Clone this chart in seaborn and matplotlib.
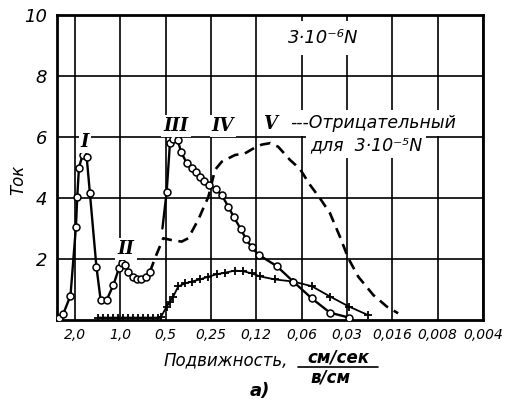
import matplotlib
matplotlib.use("Agg")
import matplotlib.pyplot as plt
import seaborn as sns
import numpy as np
import pandas as pd

# ---- data (mobility in cm/sec per V/cm, current) ----
# curves I and II, positive ions 3e-6 N (open circles)
m_12 = [2.55, 2.39, 2.14, 1.97, 1.93, 1.88, 1.78, 1.67, 1.59, 1.44, 1.35, 1.23,
        1.11, 1.02, 0.97, 0.924, 0.883, 0.828, 0.779, 0.729, 0.675, 0.635]
i_12 = [0.06, 0.2, 0.8, 3.04, 4.04, 5.0, 5.4, 5.33, 4.15, 1.75, 0.66, 0.66,
        1.15, 1.7, 1.86, 1.8, 1.58, 1.42, 1.33, 1.36, 1.42, 1.58]

# curves III and IV (open circles), first point without marker
m_34 = [0.525, 0.492, 0.468, 0.445, 0.416, 0.395, 0.362, 0.336, 0.316, 0.296,
        0.277, 0.257, 0.232, 0.212, 0.192, 0.176, 0.158, 0.146, 0.134, 0.120,
        0.0916, 0.0710, 0.0536, 0.0405, 0.0303]
i_34 = [3.0, 4.2, 5.79, 5.95, 5.9, 5.52, 5.14, 5.0, 4.86, 4.7,
        4.57, 4.43, 4.28, 4.1, 3.72, 3.37, 2.97, 2.65, 2.38, 2.13,
        1.77, 1.26, 0.71, 0.24, 0.08]

# negative ions 3e-5 N (dashed)
m_neg = [0.635, 0.589, 0.518, 0.456, 0.391, 0.354, 0.304, 0.260, 0.235, 0.212,
         0.173, 0.149, 0.128, 0.115, 0.101, 0.0894, 0.0747, 0.0641, 0.0550,
         0.0472, 0.0405, 0.0348, 0.0306, 0.0263, 0.0209, 0.0170, 0.0143]
i_neg = [1.58, 2.02, 2.68, 2.62, 2.57, 2.68, 3.28, 4.04, 4.92, 5.19,
         5.41, 5.46, 5.65, 5.75, 5.8, 5.68, 5.25, 4.95, 4.43,
         3.99, 3.5, 2.73, 2.02, 1.42, 0.82, 0.44, 0.22]

# crosses curve
m_cross = [1.41, 1.30, 1.21, 1.12, 1.04, 0.960, 0.889, 0.824, 0.763, 0.707,
           0.655, 0.607, 0.562, 0.537, 0.492, 0.468, 0.445, 0.412, 0.372, 0.336,
           0.296, 0.260, 0.229, 0.202, 0.173, 0.153, 0.134, 0.118, 0.0940,
           0.0710, 0.0536, 0.0405, 0.0303, 0.0226]
i_cross = [0.08, 0.08, 0.08, 0.08, 0.08, 0.08, 0.08, 0.08, 0.08, 0.08,
           0.08, 0.08, 0.08, 0.1, 0.44, 0.6, 0.77, 1.1, 1.2, 1.26,
           1.33, 1.42, 1.5, 1.55, 1.62, 1.6, 1.53, 1.43, 1.33,
           1.26, 1.11, 0.77, 0.44, 0.16]

x_ticks = [2.0, 1.0, 0.5, 0.25, 0.125, 0.0625, 0.03125, 0.015625, 0.0078125, 0.00390625]
x_ticklabels = ["2,0", "1,0", "0,5", "0,25", "0,12", "0,06", "0,03", "0,016", "0,008", "0,004"]
y_ticks = [2, 4, 6, 8, 10]
y_ticklabels = ["2", "4", "6", "8", "10"]

sns.set_style("white")
plt.rcParams['font.family'] = ['DejaVu Sans']
plt.rcParams['text.color'] = 'black'
plt.rcParams['xtick.color'] = 'black'
plt.rcParams['ytick.color'] = 'black'
plt.rcParams['axes.labelcolor'] = 'black'

W, H = 507, 400
fig = plt.figure(figsize=(W / 100, H / 100), dpi=100)
ax = fig.add_axes([57 / W, 1 - 320 / H, 426 / W, 305 / H])

def px(x, y):
    return x / W, 1 - y / H

circ = dict(color="black", marker="o", markersize=5, markerfacecolor="white",
            markeredgecolor="black", markeredgewidth=1.1, linewidth=1.7, zorder=5)

sns.lineplot(x=m_12, y=i_12, ax=ax, sort=False, estimator=None, **circ)
sns.lineplot(x=m_34, y=i_34, ax=ax, sort=False, estimator=None,
             markevery=list(range(1, len(m_34))), **circ)
sns.lineplot(x=m_neg, y=i_neg, ax=ax, sort=False, estimator=None, color="black",
             linewidth=1.9, zorder=4)
ax.lines[-1].set_dashes([4, 2.5])
sns.lineplot(x=m_cross, y=i_cross, ax=ax, sort=False, estimator=None, color="black",
             marker="+", markersize=6, markeredgewidth=1.3, markeredgecolor="black",
             linewidth=1.3, zorder=4)

ax.set_xscale("log", base=2)
ax.set_xlim(2.63, 2 / 512)
ax.set_ylim(0, 10)
ax.set_xticks(x_ticks)
ax.set_xticklabels(x_ticklabels, fontsize=10, style="italic")
ax.minorticks_off()
ax.set_yticks(y_ticks)
ax.set_yticklabels(y_ticklabels, fontsize=13, style="italic")
ax.tick_params(axis="both", length=0, labelcolor="black")
ax.tick_params(axis="x", pad=6)
ax.tick_params(axis="y", pad=7)
ax.grid(True, color="black", linewidth=1.2)
ax.set_axisbelow(True)
for s in ax.spines.values():
    s.set_color("black")
    s.set_linewidth(2)
ax.set_xlabel("")
ax.set_ylabel("")

white = dict(facecolor="white", edgecolor="none", pad=1.5)
rom = dict(ha="center", va="center", fontsize=13, fontweight="bold",
           style="italic", family="DejaVu Serif", bbox=white, zorder=3)
for lab, (x, y) in [("I", (85, 142)), ("II", (126, 249)), ("III", (176, 126)),
                    ("IV", (223, 126)), ("V", (270, 124))]:
    fig.text(*px(x, y), lab, **rom)

fig.text(*px(323, 38), "3·10⁻⁶N", ha="center", va="center", fontsize=13,
         style="italic", bbox=dict(facecolor="white", edgecolor="none", pad=6), zorder=3)
fig.text(*px(290, 123), "---Отрицательный", ha="left", va="center", fontsize=12.5,
         style="italic", bbox=dict(facecolor="white", edgecolor="none", pad=3), zorder=3)
fig.text(*px(310, 145), "для  3·10⁻⁵N", ha="left", va="center", fontsize=12.5,
         style="italic", bbox=dict(facecolor="white", edgecolor="none", pad=3), zorder=3)

fig.text(*px(18, 180), "Ток", rotation=90, ha="center", va="center",
         fontsize=12, style="italic")
fig.text(*px(288, 360), "Подвижность,", ha="right", va="center",
         fontsize=12, style="italic")
fig.text(*px(338, 358), "см/сек", ha="center", va="center", fontsize=12,
         style="italic", fontweight="bold")
fig.lines.append(plt.Line2D([298 / W, 378 / W], [1 - 367 / H, 1 - 367 / H],
                            transform=fig.transFigure, color="black", linewidth=1.2))
fig.text(*px(331, 377), "в/см", ha="center", va="center", fontsize=12,
         style="italic", fontweight="bold")
fig.text(*px(260, 391), "а)", ha="center", va="center", fontsize=13,
         style="italic", fontweight="bold")

fig.savefig("out.png", dpi=100)
